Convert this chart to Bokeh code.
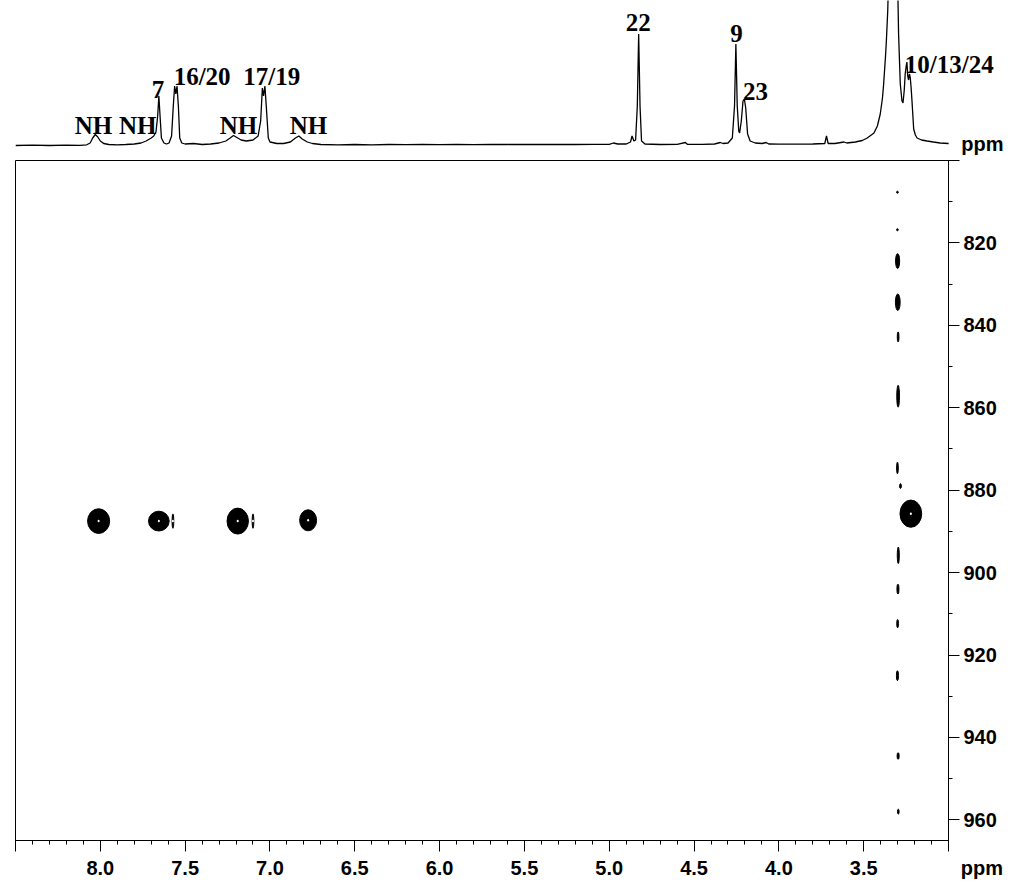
from bokeh.plotting import figure
from bokeh.models import Range1d, FixedTicker, Label, PrintfTickFormatter
from bokeh.embed import file_html
from bokeh.resources import INLINE

# 1D proton trace (ppm, height above baseline)
trace_ppm = [8.50, 8.40, 8.30, 8.20, 8.12, 8.08, 8.06, 8.045, 8.03, 8.015, 8.00, 7.98, 7.95, 7.90,
             7.85, 7.80, 7.76, 7.73, 7.70, 7.685, 7.672, 7.662, 7.655, 7.648, 7.64, 7.625, 7.61,
             7.595, 7.58, 7.57, 7.562, 7.555, 7.548, 7.54, 7.532, 7.52, 7.50, 7.45, 7.40, 7.35,
             7.30, 7.26, 7.235, 7.215, 7.20, 7.17, 7.14, 7.10, 7.07, 7.055, 7.045, 7.038, 7.03,
             7.022, 7.01, 7.00, 6.96, 6.92, 6.88, 6.85, 6.83, 6.81, 6.78, 6.75, 6.70, 6.60, 6.50,
             6.40, 6.30, 6.20, 6.10, 6.00, 5.90, 5.80, 5.70, 5.60, 5.50, 5.40, 5.30, 5.20, 5.10,
             5.00, 4.976, 4.95, 4.90, 4.875, 4.866, 4.855, 4.845, 4.835, 4.827, 4.819, 4.81, 4.79,
             4.70, 4.60, 4.552, 4.54, 4.45, 4.38, 4.346, 4.33, 4.30, 4.275, 4.262, 4.254, 4.246,
             4.237, 4.232, 4.222, 4.212, 4.204, 4.196, 4.185, 4.17, 4.14, 4.10, 4.076, 4.06, 4.00,
             3.90, 3.80, 3.73, 3.72, 3.71, 3.67, 3.617, 3.60, 3.55, 3.509, 3.48, 3.44, 3.42, 3.403,
             3.39, 3.383, 3.372, 3.367, 3.359, 3.33, 3.299, 3.295, 3.285, 3.275, 3.269, 3.262,
             3.256, 3.25, 3.246, 3.241, 3.236, 3.231, 3.226, 3.221, 3.216, 3.206, 3.196, 3.186,
             3.16, 3.127, 3.09, 3.05, 3.00]
trace_int = [0.5, 0.8, 0.5, 0.8, 0.6, 1.2, 3, 8, 11.5, 9, 5, 2.5, 1.5, 1.2,
             1.5, 2, 3, 5, 8, 10, 14, 30, 50, 30, 8, 3, 2,
             3, 10, 40, 60, 52, 60, 40, 8, 3, 2, 2.5, 1.5, 2,
             3, 5, 8, 10.5, 9, 6, 5, 6, 10, 25, 58, 50, 60,
             40, 8, 4, 2.5, 2.5, 4, 8, 10, 7, 4, 2.5, 1.5, 1.2, 1.5,
             1.2, 1.5, 1.3, 1.5, 1.3, 1.5, 1.4, 1.6, 1.5, 1.7, 1.5, 1.6, 1.5, 1.7,
             1.6, 3, 2, 2, 4, 10, 5, 6, 40, 112, 40, 5, 2,
             1.5, 1.7, 3.5, 1.7, 1.6, 2, 3.5, 2.5, 3, 8, 40, 102, 40,
             15, 13, 25, 45, 47, 38, 12, 5, 3, 2.5, 3.5, 2, 1.8,
             1.8, 2, 2.5, 10, 2.5, 2.5, 4, 3, 4, 5.5, 8, 13, 20, 32,
             48, 62, 90, 105, 135, 320, 150, 112, 62, 45, 43, 55,
             72, 80, 84, 70, 66, 72, 68, 58, 45, 17, 11, 8,
             6, 5, 4, 3, 2.5]

# peak assignments on the 1D trace
label_text = ["NH", "NH", "7", "16/20", "NH", "17/19", "NH", "22", "9", "23", "10/13/24"]
label_ppm = [8.04, 7.78, 7.66, 7.40, 7.186, 6.99, 6.773, 4.829, 4.25, 4.139, 2.996]
label_int = [21, 21, 57, 70, 21, 70, 21, 124, 113, 55, 82]

# 2D cross peaks (F2 ppm, F1 ppm, extent in F2, extent in F1)
peak_f2 = [8.01, 7.655, 7.572, 7.19, 7.10, 6.775, 3.222]
peak_f1 = [887.5, 887.5, 887.5, 887.5, 887.5, 887.3, 885.7]
peak_w = [0.13, 0.122, 0.010, 0.126, 0.010, 0.10, 0.128]
peak_h = [6.0, 4.8, 3.5, 6.3, 3.5, 5.1, 6.6]

# t1-noise streak from the solvent line
streak_f2 = [3.301, 3.301, 3.300, 3.299, 3.297, 3.297, 3.301, 3.283, 3.296, 3.298, 3.300, 3.301, 3.297, 3.296]
streak_f1 = [807.7, 816.8, 824.4, 834.4, 842.8, 857.2, 874.6, 879.0, 895.8, 904.0, 912.4, 925.0, 944.5, 958.0]
streak_w = [0.010, 0.010, 0.024, 0.028, 0.010, 0.016, 0.010, 0.010, 0.012, 0.012, 0.010, 0.012, 0.012, 0.010]
streak_h = [0.5, 0.5, 3.6, 4.0, 2.4, 5.3, 2.8, 1.2, 4.0, 2.4, 2.0, 2.4, 1.6, 1.2]

x_ticks = [8.5, 8.0, 7.5, 7.0, 6.5, 6.0, 5.5, 5.0, 4.5, 4.0, 3.5, 3.0]
y_ticks = [800, 820, 840, 860, 880, 900, 920, 940, 960]

SANS = "Liberation Sans"
SERIF = "Liberation Serif"

# --- top: 1D spectrum (own root, frame runs to the right edge so labels fit) ---
top = figure(width=1016, height=158, x_range=Range1d(8.5, 2.6), y_range=Range1d(-12.5, 145.5),
             output_backend="svg", toolbar_location=None,
             min_border_left=15, min_border_right=0, min_border_top=0, min_border_bottom=0)
top.axis.visible = False
top.grid.visible = False
top.outline_line_color = None
top.line(trace_ppm, trace_int, line_color="black", line_width=1.3)

for t, x, y in zip(label_text, label_ppm, label_int):
    top.add_layout(Label(x=x, y=y, text=t, text_font=SERIF, text_font_style="bold",
                         text_font_size="25px", text_align="center", text_baseline="middle",
                         text_color="black"))
top.add_layout(Label(x=2.925, y=2.0, text="ppm", text_font=SANS, text_font_style="bold",
                     text_font_size="20px", text_baseline="middle", text_color="black"))

# --- bottom: 2D map ---
p = figure(width=1016, height=726, x_range=Range1d(8.5, 3.0), y_range=Range1d(965, 800),
           output_backend="svg", toolbar_location=None, y_axis_location="right",
           min_border_left=15, min_border_right=68, min_border_top=2, min_border_bottom=44)
p.grid.visible = False
p.outline_line_color = "black"
p.outline_line_width = 1

p.xaxis.ticker = FixedTicker(ticks=x_ticks, minor_ticks=[round(8.5 - 0.1 * i, 1) for i in range(56)])
p.xaxis.formatter = PrintfTickFormatter(format="%.1f")
# edge ticks carry no number; the unit sits at the right-hand corner
p.xaxis.major_label_overrides = {8.5: "", 3.0: "\u2007\u2007\u2007\u2007\u2007\u2007ppm"}
p.yaxis.ticker = FixedTicker(ticks=y_ticks, minor_ticks=[810 + 20 * i for i in range(8)])
p.yaxis.major_label_overrides = {800: ""}
for ax in (p.xaxis, p.yaxis):
    ax.axis_line_color = "black"
    ax.major_tick_line_color = "black"
    ax.minor_tick_line_color = "black"
    ax.major_tick_in = 0
    ax.major_tick_out = 11
    ax.minor_tick_in = 0
    ax.minor_tick_out = 4
    ax.major_label_text_font = SANS
    ax.major_label_text_font_style = "bold"
    ax.major_label_text_font_size = "20px"
    ax.major_label_text_color = "black"
p.xaxis.major_label_standoff = 5
p.yaxis.major_label_standoff = 4

p.ellipse(x=peak_f2, y=peak_f1, width=peak_w, height=peak_h, fill_color="black", line_color="black")
p.ellipse(x=peak_f2, y=peak_f1, width=[0.012] * len(peak_f2), height=[0.6] * len(peak_f2),
          fill_color="white", line_color=None)
p.ellipse(x=streak_f2, y=streak_f1, width=streak_w, height=streak_h, fill_color="black", line_color="black")

open("out.html", "w").write(file_html([top, p], INLINE))
